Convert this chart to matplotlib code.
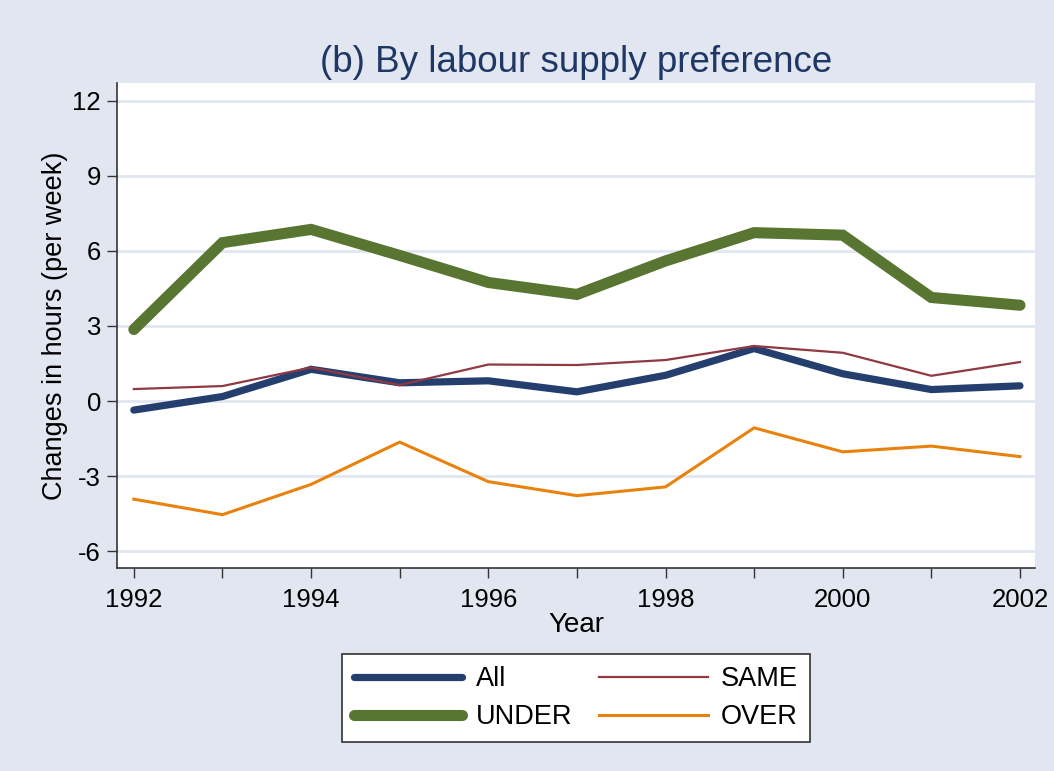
import matplotlib
matplotlib.use("Agg")
import matplotlib.pyplot as plt

plt.rcParams['font.family'] = ['Liberation Sans', 'DejaVu Sans']

years = [1992, 1993, 1994, 1995, 1996, 1997, 1998, 1999, 2000, 2001, 2002]
all_vals = [-0.36, 0.18, 1.27, 0.73, 0.81, 0.37, 1.03, 2.10, 1.09, 0.46, 0.61]
under_vals = [2.86, 6.33, 6.86, 5.82, 4.74, 4.26, 5.60, 6.73, 6.63, 4.14, 3.83]
same_vals = [0.48, 0.60, 1.34, 0.64, 1.46, 1.44, 1.64, 2.20, 1.93, 1.01, 1.56]
over_vals = [-3.92, -4.54, -3.33, -1.64, -3.22, -3.78, -3.43, -1.07, -2.03, -1.80, -2.22]

yticks = [-6, -3, 0, 3, 6, 9, 12]
xticklabels_years = [1992, 1994, 1996, 1998, 2000, 2002]

bg = '#E1E6F0'
grid_c = '#E1E6F0'

fig = plt.figure(figsize=(10.54, 7.71), dpi=100, facecolor=bg)
ax = fig.add_axes([0.111, 0.263, 0.871, 0.629])
ax.set_facecolor('white')

l_all, = ax.plot(years, all_vals, color='#243F6E', lw=5.2, solid_capstyle='round', solid_joinstyle='miter', zorder=3, label='All')
l_under, = ax.plot(years, under_vals, color='#587531', lw=8.0, solid_capstyle='round', solid_joinstyle='miter', zorder=3, label='UNDER')
l_same, = ax.plot(years, same_vals, color='#903843', lw=1.6, zorder=4, label='SAME')
l_over, = ax.plot(years, over_vals, color='#E8820C', lw=2.2, zorder=4, label='OVER')

ax.set_xlim(1991.81, 2002.17)
ax.set_ylim(-6.68, 12.7)
ax.set_yticks(yticks)
ax.set_yticklabels([str(v) for v in yticks])
ax.set_xticks(years)
ax.set_xticklabels([str(y) if y in xticklabels_years else '' for y in years])
ax.grid(axis='y', color=grid_c, lw=2, zorder=1)
ax.set_axisbelow(True)

for s in ['top', 'right']:
    ax.spines[s].set_visible(False)
for s in ['left', 'bottom']:
    ax.spines[s].set_color('#333333')
    ax.spines[s].set_linewidth(1.2)

ax.tick_params(axis='both', direction='out', length=7.5, width=1.0, color='#333333',
               labelsize=18.5, labelcolor='black')
ax.tick_params(axis='x', pad=7)
ax.tick_params(axis='y', pad=4)

ax.set_title('(b) By labour supply preference', fontsize=26.5, color='#1E3764', pad=8)
ax.set_xlabel('Year', fontsize=20, labelpad=0)
ax.set_ylabel('Changes in hours (per week)', fontsize=19.5, labelpad=3)

leg = fig.legend(handles=[l_all, l_under, l_same, l_over], labels=['All', 'UNDER', 'SAME', 'OVER'],
                 ncol=2, loc='upper center', bbox_to_anchor=(0.5465, 0.152),
                 fontsize=19.5, frameon=True, fancybox=False, edgecolor='#333333',
                 facecolor='white', framealpha=1.0,
                 handlelength=4.0, handletextpad=0.5, columnspacing=1.0,
                 borderpad=0.45, labelspacing=0.45, borderaxespad=0)
leg.get_frame().set_linewidth(1.2)

fig.savefig('out.png', dpi=100, facecolor=bg)
